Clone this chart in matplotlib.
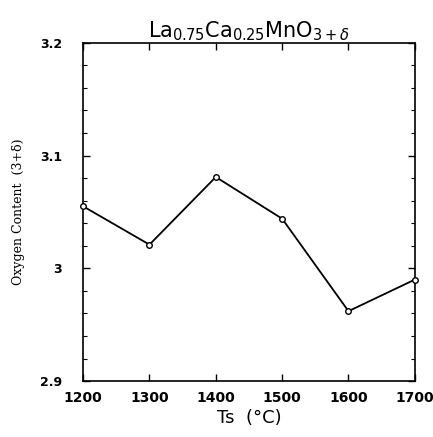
import numpy as np
import matplotlib.pyplot as plt
from matplotlib.ticker import MultipleLocator, FixedLocator, FixedFormatter

# 烧结温度与氧含量
ts = [1200, 1300, 1400, 1500, 1600, 1700]
oxygen = [3.055, 3.021, 3.081, 3.044, 2.962, 2.990]

y_ticks = [2.9, 3.0, 3.1, 3.2]
y_labels = ["2.9", "3", "3.1", "3.2"]

fig = plt.figure(figsize=(4.33, 4.37), dpi=100)
ax = fig.add_axes([0.192, 0.128, 0.766, 0.774])

ax.plot(ts, oxygen, color="black", lw=1.3, marker="o", ms=4,
        mfc="white", mec="black", mew=1.0, clip_on=False, zorder=3)

ax.set_xlim(1200, 1700)
ax.set_ylim(2.9, 3.2)
ax.xaxis.set_major_locator(MultipleLocator(100))
ax.yaxis.set_major_locator(FixedLocator(y_ticks))
ax.yaxis.set_major_formatter(FixedFormatter(y_labels))
ax.yaxis.set_minor_locator(MultipleLocator(0.02))

ax.tick_params(which="both", direction="in", top=True, right=True)
ax.tick_params(which="major", length=5, width=1)
ax.tick_params(which="minor", length=3, width=0.8)
ax.tick_params(axis="y", pad=15, labelsize=9)
ax.tick_params(axis="x", pad=7, labelsize=10)
for lab in ax.get_xticklabels() + ax.get_yticklabels():
    lab.set_fontweight("bold")
for s in ax.spines.values():
    s.set_linewidth(1.2)

ax.set_title(r"$\mathrm{La}_{0.75}\mathrm{Ca}_{0.25}\mathrm{MnO}_{3+\delta}$",
             fontsize=15, pad=3)
ax.set_xlabel("Ts  (°C)", fontsize=13, labelpad=3)
ax.set_ylabel("Oxygen Content  (3+δ)", fontsize=9, family="serif", labelpad=11)

fig.savefig("out.png", dpi=100)
